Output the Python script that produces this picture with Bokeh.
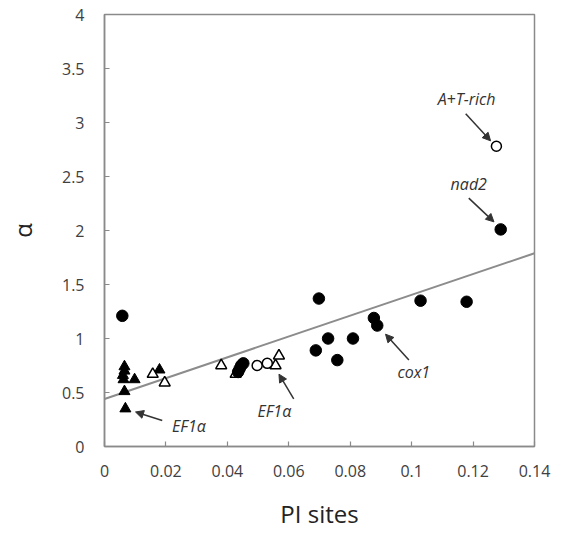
from bokeh.plotting import figure
from bokeh.models import FixedTicker, Arrow, NormalHead, ColumnDataSource, Range1d
from bokeh.core.properties import value
from bokeh.embed import file_html
from bokeh.resources import INLINE

# Data
filled_circle_x = [0.0058, 0.0435, 0.0440, 0.0445, 0.0452, 0.0688, 0.0698, 0.0728, 0.0758, 0.0809,
                   0.0877, 0.0888, 0.1029, 0.1179, 0.1290]
filled_circle_y = [1.21, 0.69, 0.72, 0.75, 0.77, 0.89, 1.37, 1.00, 0.80, 1.00,
                   1.19, 1.12, 1.35, 1.34, 2.01]
open_circle_x = [0.0497, 0.0530, 0.1276]
open_circle_y = [0.75, 0.77, 2.78]
filled_tri_x = [0.0065, 0.0065, 0.0060, 0.0062, 0.0065, 0.0068, 0.0098, 0.0179]
filled_tri_y = [0.74, 0.70, 0.66, 0.62, 0.51, 0.35, 0.62, 0.71]
open_tri_x = [0.0157, 0.0196, 0.0380, 0.0427, 0.0557, 0.0568]
open_tri_y = [0.67, 0.59, 0.75, 0.67, 0.75, 0.84]

fit_intercept = 0.44
fit_slope = 9.64
fit_x = [0.0, 0.14]
fit_y = [fit_intercept + fit_slope * v for v in fit_x]

x_ticks = [0, 0.02, 0.04, 0.06, 0.08, 0.10, 0.12, 0.14]
x_tick_labels = ["0", "0.02", "0.04", "0.06", "0.08", "0.1", "0.12", "0.14"]
y_ticks = [0, 0.5, 1, 1.5, 2, 2.5, 3, 3.5, 4]
y_tick_labels = ["0", "0.5", "1", "1.5", "2", "2.5", "3", "3.5", "4"]

label_text = ["A+T-rich", "nad2", "cox1", "EF1α", "EF1α"]
label_x = [0.1179, 0.1186, 0.1007, 0.0553, 0.0275]
label_y = [3.22, 2.43, 0.69, 0.33, 0.19]
arrow_x_start = [0.1176, 0.1186, 0.0991, 0.0616, 0.0188]
arrow_y_start = [3.08, 2.30, 0.80, 0.44, 0.24]
arrow_x_end = [0.1257, 0.1268, 0.0915, 0.0568, 0.0101]
arrow_y_end = [2.83, 2.08, 1.04, 0.67, 0.32]

FONT = "Open Sans"

p = figure(width=561, height=538, output_backend="svg", toolbar_location=None,
           x_range=Range1d(0, 0.14), y_range=Range1d(0, 4),
           min_border_left=104, min_border_right=27, min_border_top=14, min_border_bottom=92)
p.background_fill_color = "white"
p.border_fill_color = "white"
p.xgrid.visible = False
p.ygrid.visible = False
p.outline_line_color = "#8a8a8a"
p.outline_line_width = 1.5

for ax in (p.xaxis[0], p.yaxis[0]):
    ax.axis_line_color = "#8a8a8a"
    ax.axis_line_width = 1.5
    ax.major_tick_line_color = "#8a8a8a"
    ax.major_tick_line_width = 1.2
    ax.major_tick_in = 5
    ax.major_tick_out = 0
    ax.minor_tick_line_color = None
    ax.major_label_text_font = FONT
    ax.major_label_text_font_size = "16px"
    ax.major_label_text_color = "#404040"
    ax.axis_label_text_font = FONT
    ax.axis_label_text_font_style = "normal"
    ax.axis_label_text_color = "#222222"

p.xaxis.ticker = FixedTicker(ticks=x_ticks)
p.xaxis.major_label_overrides = {t: l for t, l in zip(x_ticks, x_tick_labels)}
p.yaxis.ticker = FixedTicker(ticks=y_ticks)
p.yaxis.major_label_overrides = {t: l for t, l in zip(y_ticks, y_tick_labels)}
p.xaxis.axis_label = "PI sites"
p.yaxis.axis_label = "α"
p.xaxis.axis_label_text_font_size = "24px"
p.yaxis.axis_label_text_font_size = "24px"
p.xaxis.major_label_standoff = 18
p.yaxis.major_label_standoff = 20
p.xaxis.axis_label_standoff = 17
p.yaxis.axis_label_standoff = 20

p.line(fit_x, fit_y, line_color="#8c8c8c", line_width=2)

p.scatter(filled_tri_x, filled_tri_y, marker="triangle", size=11, fill_color="black", line_color="black")
p.scatter(open_tri_x, open_tri_y, marker="triangle", size=11, fill_color="white", line_color="black",
          line_width=1.5)
p.scatter(filled_circle_x, filled_circle_y, marker="circle", size=11.5, fill_color="black", line_color="black")
p.scatter(open_circle_x, open_circle_y, marker="circle", size=10, fill_color="white", line_color="black",
          line_width=1.5)

for xs, ys, xe, ye in zip(arrow_x_start, arrow_y_start, arrow_x_end, arrow_y_end):
    p.add_layout(Arrow(x_start=xs, y_start=ys, x_end=xe, y_end=ye, line_color="#333333", line_width=1.5,
                       end=NormalHead(size=8, fill_color="#333333", line_color="#333333")))

src = ColumnDataSource(dict(x=label_x, y=label_y, t=label_text))
p.text(x="x", y="y", text="t", source=src, text_align="center", text_baseline="middle",
       text_font=value(FONT), text_font_style="italic", text_font_size="16px", text_color="#333333")

open("out.html", "w").write(file_html(p, INLINE))
